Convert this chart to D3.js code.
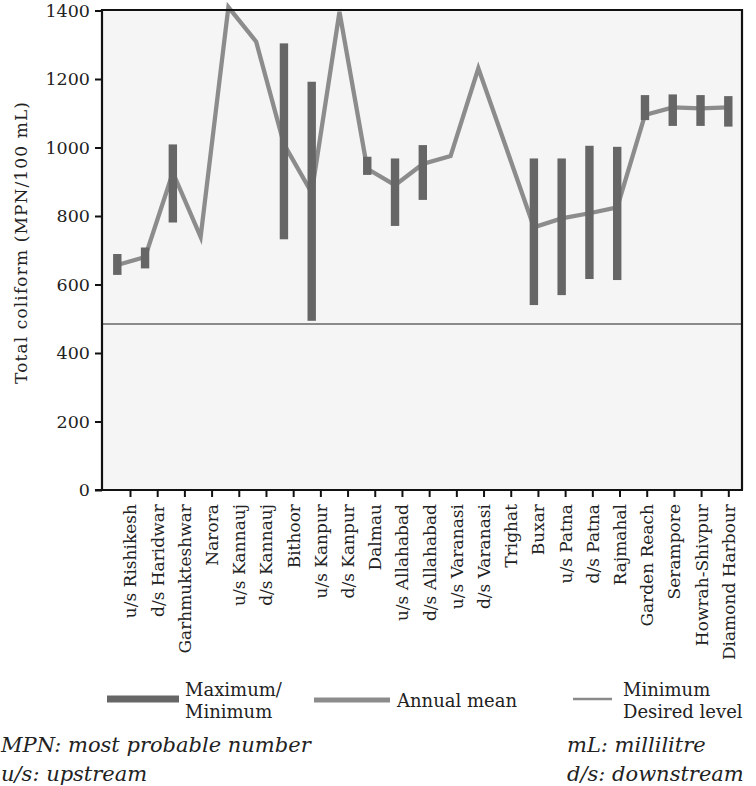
<!DOCTYPE html>
<html>
<head>
<meta charset="utf-8">
<script src="https://cdn.jsdelivr.net/npm/d3@7"></script>
<style>
  html, body { margin: 0; padding: 0; background: #ffffff; }
  svg { display: block; }
</style>
</head>
<body>
<svg id="chart" width="756" height="786"></svg>
<script>
// ---- data ----
const categories = ["u/s Rishikesh","d/s Haridwar","Garhmukteshwar","Narora","u/s Kannauj","d/s Kannauj","Bithoor","u/s Kanpur","d/s Kanpur","Dalmau","u/s Allahabad","d/s Allahabad","u/s Varanasi","d/s Varanasi","Trighat","Buxar","u/s Patna","d/s Patna","Rajmahal","Garden Reach","Serampore","Howrah-Shivpur","Diamond Harbour"];
const annualMean = [657, 680, 927, 739, 1410, 1309, 1010, 868, 1396, 938, 890, 952, 975, 1231, 1000, 767, 793, 808, 825, 1095, 1117, 1114, 1117];
const maximum = [689, 708, 1009, null, null, null, 1304, 1192, null, 973, 968, 1007, null, null, null, 968, 968, 1005, 1002, 1153, 1155, 1153, 1150];
const minimum = [628, 647, 781, null, null, null, 732, 494, null, 920, 771, 847, null, null, null, 540, 569, 616, 613, 1080, 1063, 1063, 1061];
const minimumDesiredLevel = 485;
const yTicks = [0, 200, 400, 600, 800, 1000, 1200, 1400];
const yTitle = "Total coliform (MPN/100 mL)";
const legendItems = [["Maximum/", "Minimum"], ["Annual mean"], ["Minimum", "Desired level"]];
const notesLeft = ["MPN: most probable number", "u/s: upstream"];
const notesRight = ["mL: millilitre", "d/s: downstream"];

// ---- layout ----
const svg = d3.select("#chart");
const plot = { left: 102, right: 742, top: 10, bottom: 490 };
const FONT = "'DejaVu Serif', serif";
const BAR = "#666666", MEAN = "#8c8c8c", LEVEL = "#8a8a8a";

const y = d3.scaleLinear().domain([0, 1400]).range([plot.bottom, 10.5]);
const xTick = d3.scalePoint().domain(categories).range([130, 728.3]);
const xData = d3.scalePoint().domain(categories).range([117.3, 728.3]);

// background
svg.append("rect")
  .attr("x", plot.left).attr("y", plot.top)
  .attr("width", plot.right - plot.left).attr("height", plot.bottom - plot.top)
  .attr("fill", "#f5f5f5");

// minimum desired level
svg.append("line")
  .attr("x1", plot.left).attr("x2", plot.right)
  .attr("y1", y(minimumDesiredLevel)).attr("y2", y(minimumDesiredLevel))
  .attr("stroke", LEVEL).attr("stroke-width", 2);

// annual mean line
const rows = categories.map((c, i) => ({ c, mean: annualMean[i], max: maximum[i], min: minimum[i] }));
svg.append("path")
  .datum(rows)
  .attr("fill", "none")
  .attr("stroke", MEAN)
  .attr("stroke-width", 4.3)
  .attr("stroke-linejoin", "miter")
  .attr("d", d3.line().x(d => xData(d.c)).y(d => y(d.mean)));

// max/min bars
svg.append("g").selectAll("rect")
  .data(rows.filter(d => d.max != null))
  .join("rect")
  .attr("x", d => xData(d.c) - 4.2)
  .attr("width", 8.4)
  .attr("y", d => y(d.max))
  .attr("height", d => y(d.min) - y(d.max))
  .attr("fill", BAR);

// frame: top and right borders
svg.append("path")
  .attr("d", `M${plot.left},${plot.top}H${plot.right}V${plot.bottom}`)
  .attr("fill", "none").attr("stroke", "#111").attr("stroke-width", 2.2);

// y axis
const yAxis = svg.append("g")
  .attr("transform", `translate(${plot.left},0)`)
  .call(d3.axisLeft(y).tickValues(yTicks).tickFormat(d3.format("d")).tickSize(7).tickPadding(5).tickSizeOuter(0));
yAxis.select(".domain").attr("stroke", "#111").attr("stroke-width", 2.2)
  .attr("d", `M0,${plot.bottom}V${plot.top - 1}`);
yAxis.selectAll(".tick line").attr("stroke", "#111").attr("stroke-width", 2);
yAxis.selectAll(".tick text").attr("font-family", FONT).attr("font-size", 17.5).attr("fill", "#222");

// x axis
const xAxis = svg.append("g")
  .attr("transform", `translate(0,${plot.bottom})`)
  .call(d3.axisBottom(xTick).tickSize(7).tickSizeOuter(0));
xAxis.select(".domain").attr("stroke", "#111").attr("stroke-width", 2.2)
  .attr("d", `M${plot.left - 7},0H${plot.right + 1}`);
xAxis.selectAll(".tick line").attr("stroke", "#111").attr("stroke-width", 2);
xAxis.selectAll(".tick text")
  .attr("font-family", FONT).attr("font-size", 17).attr("fill", "#222")
  .attr("text-anchor", "end")
  .attr("transform", "rotate(-90)")
  .attr("x", -14).attr("y", 0).attr("dy", "0.35em");

// y title
svg.append("text")
  .attr("transform", "translate(27,243) rotate(-90)")
  .attr("text-anchor", "middle")
  .attr("font-family", FONT).attr("font-size", 17).attr("fill", "#222")
  .attr("textLength", 282).attr("lengthAdjust", "spacing")
  .text(yTitle);

// legend
const lg = svg.append("g").attr("font-family", FONT).attr("font-size", 18).attr("fill", "#222");
lg.append("line").attr("x1", 107).attr("x2", 179).attr("y1", 699).attr("y2", 699)
  .attr("stroke", BAR).attr("stroke-width", 7);
lg.append("text").attr("x", 185).attr("y", 696).text(legendItems[0][0]);
lg.append("text").attr("x", 185).attr("y", 718).text(legendItems[0][1]);
lg.append("line").attr("x1", 314).attr("x2", 390).attr("y1", 700).attr("y2", 700)
  .attr("stroke", MEAN).attr("stroke-width", 5);
lg.append("text").attr("x", 397).attr("y", 707).text(legendItems[1][0]);
lg.append("line").attr("x1", 573).attr("x2", 612).attr("y1", 699).attr("y2", 699)
  .attr("stroke", LEVEL).attr("stroke-width", 2.6);
lg.append("text").attr("x", 623).attr("y", 696).text(legendItems[2][0]);
lg.append("text").attr("x", 623).attr("y", 718).text(legendItems[2][1]);

// footnotes
const fn = svg.append("g").attr("font-family", FONT).attr("font-style", "italic")
  .attr("font-size", 21).attr("fill", "#222");
notesLeft.forEach((t, i) => fn.append("text").attr("x", 1).attr("y", 752 + i * 29).text(t));
notesRight.forEach((t, i) => fn.append("text").attr("x", 567).attr("y", 752 + i * 29).text(t));
</script>
</body>
</html>
